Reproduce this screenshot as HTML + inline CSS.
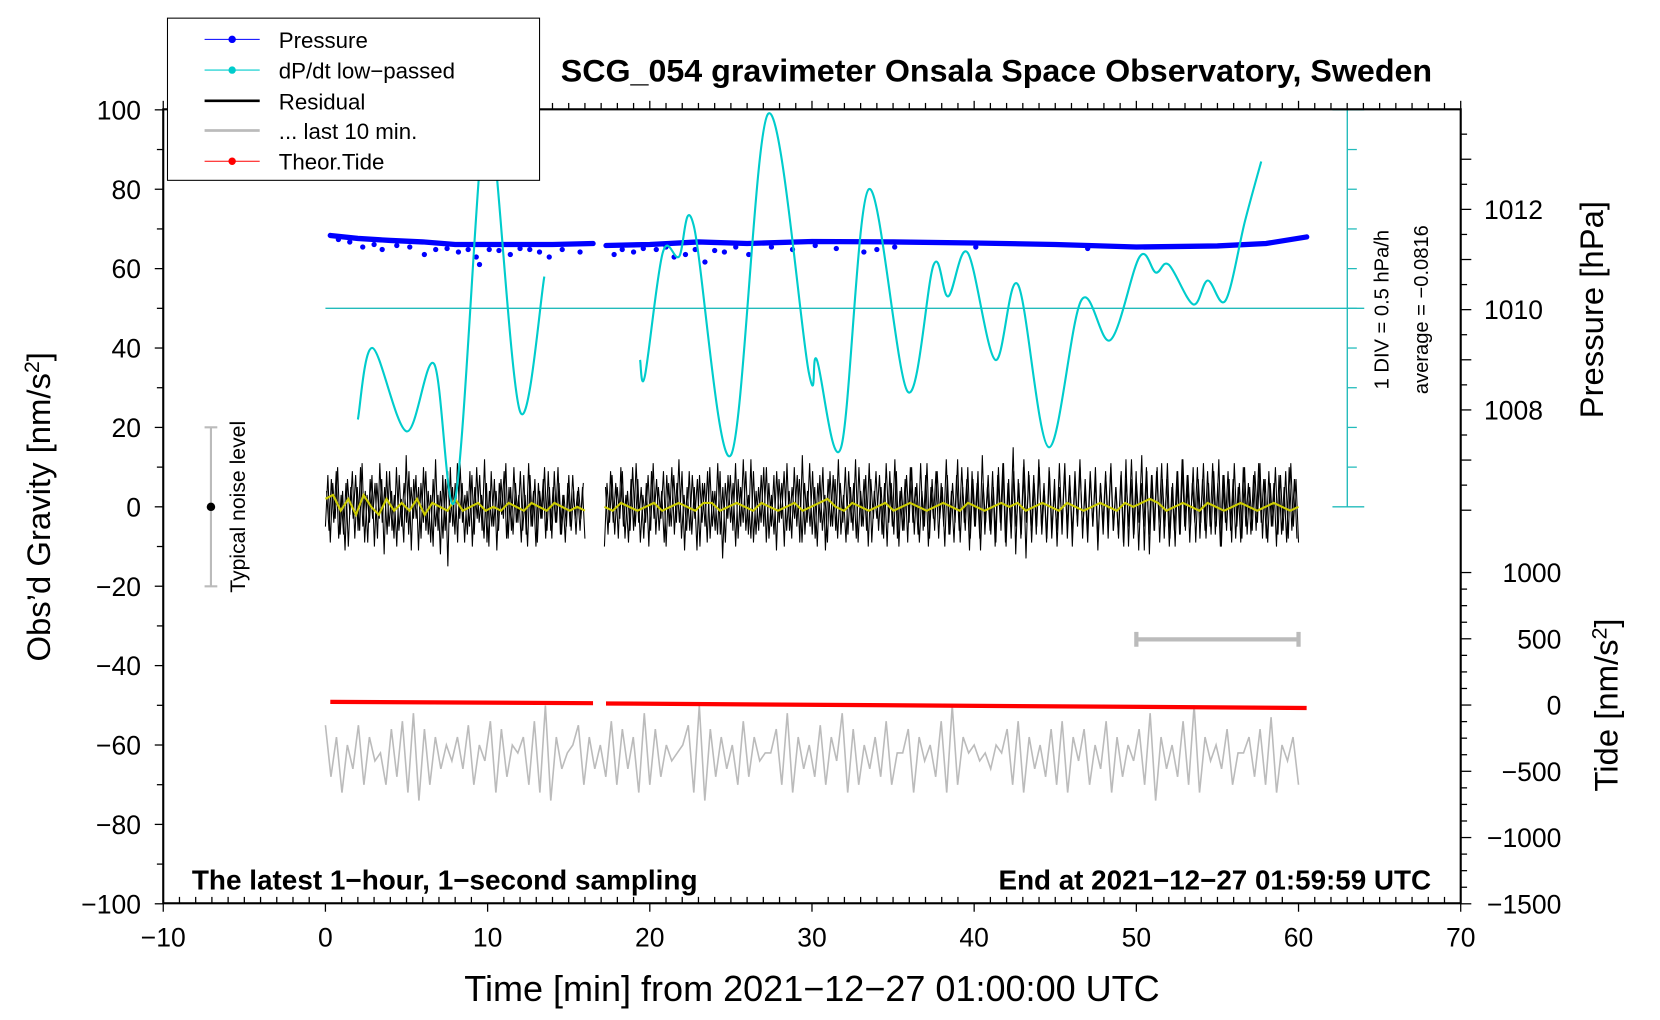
<!DOCTYPE html>
<html><head><meta charset="utf-8"><style>
html,body{margin:0;padding:0;background:#fff;}
svg{display:block;font-family:"Liberation Sans",Helvetica,Arial,sans-serif;}
</style></head><body>
<svg id="chart" width="1660" height="1020" viewBox="0 0 1566 962" xmlns="http://www.w3.org/2000/svg">
<rect x="0" y="0" width="1566" height="962" fill="#fff"/>
<g id="ticks"></g>
<g id="series"></g>
<rect x="154" y="103" width="1224" height="749" fill="none" stroke="#000" stroke-width="2"/>
<text x="940" y="77" text-anchor="middle" font-size="30" font-weight="bold" textLength="822" lengthAdjust="spacingAndGlyphs">SCG_054 gravimeter Onsala Space Observatory, Sweden</text>
<text transform="translate(47,478) rotate(-90)" text-anchor="middle" font-size="31">Obs’d Gravity [nm/s<tspan baseline-shift="super" font-size="20">2</tspan>]</text>
<text transform="translate(1512,292) rotate(-90)" text-anchor="middle" font-size="31">Pressure [hPa]</text>
<text transform="translate(1526,665) rotate(-90)" text-anchor="middle" font-size="31">Tide [nm/s<tspan baseline-shift="super" font-size="20">2</tspan>]</text>
<text x="766" y="944" text-anchor="middle" font-size="34" textLength="656" lengthAdjust="spacingAndGlyphs">Time [min] from 2021−12−27 01:00:00 UTC</text>
<text x="181" y="839" font-size="26" font-weight="bold" textLength="477" lengthAdjust="spacingAndGlyphs">The latest 1−hour, 1−second sampling</text>
<text x="942" y="839" font-size="26" font-weight="bold" textLength="408" lengthAdjust="spacingAndGlyphs">End at 2021−12−27 01:59:59 UTC</text>
<text transform="translate(1310,292) rotate(-90)" text-anchor="middle" font-size="19">1 DIV = 0.5 hPa/h</text>
<text transform="translate(1347,292) rotate(-90)" text-anchor="middle" font-size="19">average = −0.0816</text>
<g stroke="#bbb" stroke-width="2">
<line x1="199" y1="403" x2="199" y2="553"/><line x1="193" y1="403" x2="205" y2="403"/><line x1="193" y1="553" x2="205" y2="553"/>
</g>
<circle cx="199" cy="478" r="4" fill="#000"/>
<text transform="translate(231,478) rotate(-90)" text-anchor="middle" font-size="20">Typical noise level</text>
<g stroke="#bbb" stroke-width="4">
<line x1="1072" y1="603" x2="1225" y2="603"/><line x1="1072" y1="596" x2="1072" y2="610"/><line x1="1225" y1="596" x2="1225" y2="610"/>
</g>
<g>
<rect x="158" y="17" width="351" height="153" fill="#fff" stroke="#000" stroke-width="1"/>
<g><line x1="193" y1="37" x2="245" y2="37" stroke="#00f" stroke-width="1"/><circle cx="219" cy="37" r="3.5" fill="#00f"/><text x="263" y="45" font-size="21">Pressure</text></g>
<g><line x1="193" y1="66" x2="245" y2="66" stroke="#0cc" stroke-width="1"/><circle cx="219" cy="66" r="3.5" fill="#0cc"/><text x="263" y="74" font-size="21">dP/dt low−passed</text></g>
<g><line x1="193" y1="95" x2="245" y2="95" stroke="#000" stroke-width="2.5"/><text x="263" y="103" font-size="21">Residual</text></g>
<g><line x1="193" y1="123" x2="245" y2="123" stroke="#bbb" stroke-width="2.5"/><text x="263" y="131" font-size="21">... last 10 min.</text></g>
<g><line x1="193" y1="152" x2="245" y2="152" stroke="#f00" stroke-width="1"/><circle cx="219" cy="152" r="3.5" fill="#f00"/><text x="263" y="160" font-size="21">Theor.Tide</text></g>
</g>
</svg>
<script>
// ---- data ----
var xTicks=[-10,0,10,20,30,40,50,60,70];
var gTicks=[100,80,60,40,20,0,-20,-40,-60,-80,-100];
var pTicks=[1012,1010,1008];
var tideTicks=[1000,500,0,-500,-1000,-1500];
var seg1Range=[0.0,16.0];
var seg2Range=[17.2,60.0];
var res1=[-5,8,-9,6,-3,10,-7,4,-11,7,-2,9,-8,5,-6,11,-9,3,-4,8,-10,6,-3,7,-12,9,-5,4,-8,10,-6,2,-9,13,-7,5,-3,8,-11,6,-4,9,-7,3,-10,12,-6,4,-8,7,-15,10,-5,6,-9,11,-4,3,-7,9,-10,5,-3,8,-6,12,-9,4,-5,7,-11,6,-2,9,-8,5,-6,10,-4,3,-9,8,-7,11,-5,4,-10,6,-3,7,-8,9,-6,5,-4,10,-7,3,-9,6,-5,8,-3,4,-6,5,-8];
var res1b=[4,-6,7,-4,9,-8,3,-7,6,-10,5,-3,8,-6,10,-5,4,-9,7,-3,6,-8,11,-4,5,-7,9,-6,3,-10,8,-5,6,-4,9,-11,7,-3,5,-8,10,-6,4,-9,7,-5,3,-12,8,-6,9,-4,5,-7,11,-3,6,-9,4,-5,8,-7,10,-4,3,-8,6,-10,9,-5,4,-6,7,-3,11,-8,5,-7,6,-4,9,-6,3,-10,8,-5,7,-9,4,-3,10,-6,5,-8,9,-4,6,-7,3,-5,8,-6,4,-7,5,-3,6];
var res2=[-10,6,-4,8,-7,5,-3,9,-8,4,-6,10,-5,7,-9,3,-4,8,-6,11,-7,5,-3,9,-10,6,-5,8,-4,12,-8,3,-6,9,-7,5,-11,8,-4,6,-9,10,-5,4,-7,9,-13,6,-3,8,-6,11,-8,5,-4,9,-7,12,-9,4,-6,8,-5,10,-8,3,-7,9,-4,6,-10,11,-6,5,-3,8,-9,13,-7,4,-5,9,-8,6,-4,10,-11,7,-5,8,-6,12,-7,3,-9,9,-4,6,-8,10,-5,7,-6,11,-9,4,-3,8,-7,6,-10,9,-5,12,-8,4,-6,7,-9,10,-4,5,-7,11,-6,8,-10,5,-3,9,-8,6,-5,12,-7,4,-9,8,-6,10,-4,7,-11,9,-5,6,-8,13,-7,5,-6,9,-10,8,-4,11,-9,6,-5,15,-12,7,-8,10,-13,9,-6,8,-7,12,-5,6,-9,10,-8,4,-6,11,-7,9,-5,8,-10,6,-4,12,-8,7,-6,9,-5,10,-9,6,-7,8,-4,11,-6,5,-8,9,-10,7,-5,12,-7,6,-4,13,-11,9,-12,8,-6,10,-9,7,-5,11,-8,6,-10,9,-7,12,-6,8,-5,10,-9,7,-4,11,-8,6,-7,9,-5,12,-10,8,-6,7,-9,11,-5,6,-8,10,-7,5,-6,9,-4,11,-8,7,-9,6,-5,10,-7,8,-6,9,-8,11,-5,7,-9];
var res2b=[5,-7,9,-4,6,-8,10,-5,3,-9,7,-6,11,-4,5,-8,6,-10,9,-3,7,-6,4,-9,8,-5,10,-7,6,-4,9,-11,5,-6,8,-3,7,-10,6,-5,9,-8,4,-6,11,-7,5,-9,8,-4,6,-10,7,-5,12,-6,3,-8,9,-7,5,-4,10,-9,6,-5,8,-11,7,-3,9,-6,4,-8,10,-5,7,-9,6,-4,11,-7,5,-10,8,-6,3,-9,9,-5,7,-8,6,-4,10,-7,5,-6,12,-9,4,-5,8,-10,7,-3,9,-6,5,-8,11,-4,6,-7,9,-10,5,-6,8,-4,10,-7,6,-9,4,-5,11,-8,7,-6,9,-3,5,-10,8,-7,6,-4,12,-9,5,-6,10,-8,7,-5,9,-11,6,-4,8,-7,5,-9,10,-6,11,-10,7,-8,9,-5,6,-7,12,-4,8,-9,6,-5,10,-7,4,-8,9,-6,7,-10,5,-4,11,-8,6,-7,9,-5,10,-6,4,-9,8,-5,7,-11,6,-4,9,-8,10,-6,5,-7,8,-9,12,-10,7,-8,9,-11,6,-5,10,-7,8,-6,9,-4,11,-8,7,-10,5,-6,9,-7,12,-5,8,-9,6,-4,10,-8,7,-6,9,-5,11,-7,6,-10,8,-4,9,-6,7,-8,5,-9,10,-5,6,-7,8,-6,11,-4,7,-8,9,-5,6,-10,8,-7,5,-9,10,-6,7,-8];
var smooth1=[2,3,-1,2,-2,3,0,-2,2,-1,1,-1,2,-2,1,0,-1,2,-1,0,1,-1,0,-1,1,0,-1,1,0,-1,1,0,-1,0,-1];
var smooth2=[0,-1,1,0,-1,0,1,-1,0,1,0,-1,1,1,-1,0,1,0,-1,1,0,-1,0,1,-1,0,1,2,0,-1,1,0,-1,0,1,-1,0,1,0,-1,0,1,0,-1,1,0,-1,0,1,0,1,-1,0,1,0,-1,1,0,-1,0,1,0,-1,1,0,1,2,1,-1,0,1,0,-1,1,0,-1,0,1,0,-1,0,1,0,-1,0];
var lastTen=[-55,-68,-58,-72,-60,-66,-55,-70,-58,-64,-62,-70,-56,-68,-54,-72,-52,-74,-56,-70,-58,-66,-60,-64,-58,-66,-55,-70,-60,-64,-54,-72,-56,-68,-60,-62,-58,-70,-54,-72,-50,-74,-58,-66,-62,-60,-55,-70,-58,-66,-60,-68,-54,-70,-56,-66,-58,-72,-52,-70,-56,-68,-60,-64,-62,-60,-55,-72,-50,-74,-56,-68,-58,-66,-60,-70,-54,-68,-58,-64,-62,-62,-56,-70,-52,-72,-58,-66,-60,-68,-55,-70,-58,-64,-52,-72,-56,-70,-60,-66,-58,-68,-54,-70,-62,-62,-56,-72,-58,-64,-60,-68,-54,-72,-50,-70,-58,-62,-60,-64,-62,-66,-60,-62,-56,-70,-54,-72,-58,-66,-60,-68,-56,-70,-54,-72,-58,-64,-56,-70,-60,-66,-54,-72,-58,-68,-60,-64,-56,-70,-52,-74,-58,-66,-60,-68,-54,-70,-50,-72,-58,-64,-60,-66,-56,-70,-62,-62,-58,-68,-56,-70,-53,-72,-60,-64,-58,-70];
var lastTenRange=[0.0,60.0];
var dpdtT1=[2.0,2.9,5.0,6.7,8.0,9.6,10.3,12.0,13.5];
var dpdtV1=[22,40,19,36,2,90,94,24,58];
var dpdtT2=[19.4,19.7,20.8,21.8,22.7,25.0,27.3,29.8,30.3,31.8,33.5,35.9,37.5,38.4,39.6,41.3,42.7,44.6,46.6,48.4,50.2,51.2,52.0,53.5,54.4,55.5,56.7,57.7];
var dpdtV2=[37,33,64,63,71,13,99,34,37,15,80,29,61,53,64,37,56,15,52,42,63,59,61,51,57,52,72,87];
var dpdtAverage=50;
var pressT1=[0.3,2,4,6,8,10,12,14,16.5];
var pressV1=[1011.48,1011.42,1011.38,1011.35,1011.3,1011.3,1011.3,1011.3,1011.32];
var pressT2=[17.3,20,23,26,30,35,40,45,50,55,58,60.5];
var pressV2=[1011.28,1011.3,1011.35,1011.32,1011.36,1011.35,1011.33,1011.3,1011.25,1011.27,1011.32,1011.45];
var pressDotT=[0.8,1.5,2.3,3.0,3.5,4.4,5.2,6.1,6.8,7.5,8.2,8.8,9.3,9.5,10.1,10.7,11.4,12.0,12.6,13.2,13.8,14.6,15.7,17.8,18.3,19.0,19.6,20.4,21.0,21.5,22.2,22.8,23.4,24.0,24.6,25.3,26.1,27.5,28.8,30.2,31.5,33.2,34.0,35.1,40.1,47.0];
var pressDotV=[1011.4,1011.35,1011.25,1011.3,1011.2,1011.28,1011.25,1011.1,1011.2,1011.22,1011.15,1011.2,1011.05,1010.9,1011.2,1011.18,1011.1,1011.22,1011.2,1011.15,1011.05,1011.2,1011.15,1011.1,1011.2,1011.15,1011.22,1011.2,1011.25,1011.05,1011.1,1011.2,1010.95,1011.18,1011.15,1011.25,1011.1,1011.25,1011.2,1011.28,1011.22,1011.15,1011.2,1011.25,1011.25,1011.22];
var tideT=[0.3,16.5,17.3,60.5];
var tideV=[24,14,12,-22];
// ---- scales ----
function X(t){return 154+(t+10)*15.3;}
function Y(g){return 478-g*3.745;}
function P(p){return 292-(p-1010)*47.3;}
function TD(n){return 665-n*0.125;}
var NS='http://www.w3.org/2000/svg';
var ticksG=document.getElementById('ticks'),seriesG=document.getElementById('series');
function mk(tag,attrs,parent){var e=document.createElementNS(NS,tag);for(var k in attrs)e.setAttribute(k,attrs[k]);parent.appendChild(e);return e;}
for(var m=-10;m<=70;m++){
 var big=(m%10===0);var x=X(m);
 var l1=mk('line',{x1:x,x2:x,y1:852,y2:big?860:846,stroke:'#000','stroke-width':1.2},ticksG);
 
 
 var l2=mk('line',{x1:x,x2:x,y1:103,y2:big?95:97,stroke:'#000','stroke-width':1.2},ticksG);
 
 
}
xTicks.forEach(function(v){
 var t=mk('text',{x:X(v),y:893,'text-anchor':'middle','font-size':25},ticksG);t.textContent=(v<0?'−':'')+Math.abs(v);
 
 
});
for(var g=-100;g<=100;g+=10){
 var ln=mk('line',{x1:g%20===0?146:148,x2:154,y1:Y(g),y2:Y(g),stroke:'#000','stroke-width':1.2},ticksG);
 
 
}
gTicks.forEach(function(v){
 var t=mk('text',{x:133,y:Y(v)+9,'text-anchor':'end','font-size':25},ticksG);t.textContent=(v<0?'−':'')+Math.abs(v);
 
 
});
for(var p=1013.5;p>=1006;p-=0.5){
 var ln2=mk('line',{x1:1378,x2:(p%1===0)?1388:1384,y1:P(p),y2:P(p),stroke:'#000','stroke-width':1.2},ticksG);
 
 
}
pTicks.forEach(function(v){
 var t=mk('text',{x:1400,y:P(v)+9,'font-size':25},ticksG);t.textContent=v;
 
 
});
for(var n=1000;n>=-1500;n-=125){
 var ln3=mk('line',{x1:1378,x2:(n%500===0)?1388:1384,y1:TD(n),y2:TD(n),stroke:'#000','stroke-width':1.2},ticksG);
 
 
}
tideTicks.forEach(function(v){
 var t=mk('text',{x:1473,y:TD(v)+9,'text-anchor':'end','font-size':25},ticksG);t.textContent=(v<0?'−':'')+Math.abs(v);
 
 
});
var ax=mk('line',{x1:1271,x2:1271,y1:103,y2:478,stroke:'#2bb',"stroke-width":1.3},ticksG);


for(var d=0;d<=10;d++){
 var yy=Y(d*10);
 var tk=mk('line',{x1:d===0||d===10?1257:1271,x2:d===0||d===10?1287:1280,y1:yy,y2:yy,stroke:'#2bb','stroke-width':1.2},ticksG);
 
 
}
function poly(ts,vs,fx,fy){return ts.map(function(t,i){return fx(t).toFixed(1)+','+fy(vs[i]).toFixed(1);}).join(' ');}
function evenT(range,n){var a=[];for(var i=0;i<n;i++)a.push(range[0]+(range[1]-range[0])*i/(n-1));return a;}
function smoothPath(ts,vs){
 var pts=ts.map(function(t,i){return [X(t),Y(vs[i])];});
 var d='M'+pts[0][0]+','+pts[0][1];
 for(var i=0;i<pts.length-1;i++){
  var p0=pts[i-1]||pts[i],p1=pts[i],p2=pts[i+1],p3=pts[i+2]||p2;
  var c1=[p1[0]+(p2[0]-p0[0])/6,p1[1]+(p2[1]-p0[1])/6],c2=[p2[0]-(p3[0]-p1[0])/6,p2[1]-(p3[1]-p1[1])/6];
  d+=' C'+c1[0].toFixed(1)+','+c1[1].toFixed(1)+' '+c2[0].toFixed(1)+','+c2[1].toFixed(1)+' '+p2[0].toFixed(1)+','+p2[1].toFixed(1);
 }
 return d;
}
var av=mk('line',{x1:X(0),x2:1287,y1:Y(dpdtAverage),y2:Y(dpdtAverage),stroke:'#2bb','stroke-width':1.3},seriesG);


var gl=mk('polyline',{points:poly(evenT(lastTenRange,lastTen.length),lastTen,X,Y),fill:'none',stroke:'#bbb','stroke-width':1.5},seriesG);


[[res1,seg1Range],[res1b,[0.07,15.9]],[res2,seg2Range],[res2b,[17.27,59.9]]].forEach(function(s){
 var r=mk('polyline',{points:poly(evenT(s[1],s[0].length),s[0],X,Y),fill:'none',stroke:'#000','stroke-width':1},seriesG);
 
 
});
[[smooth1,seg1Range],[smooth2,seg2Range]].forEach(function(s){
 var r=mk('polyline',{points:poly(evenT(s[1],s[0].length),s[0],X,Y),fill:'none',stroke:'#cc0','stroke-width':2},seriesG);
 
 
});
[[0,1],[2,3]].forEach(function(ix){
 var r=mk('line',{x1:X(tideT[ix[0]]),y1:TD(tideV[ix[0]]),x2:X(tideT[ix[1]]),y2:TD(tideV[ix[1]]),stroke:'#f00','stroke-width':4},seriesG);
 
 
});
[[pressT1,pressV1],[pressT2,pressV2]].forEach(function(s){
 var r=mk('polyline',{points:poly(s[0],s[1],X,P),fill:'none',stroke:'#00f','stroke-width':5,'stroke-linecap':'round'},seriesG);
 
 
});
pressDotT.forEach(function(t,i){
 var c=mk('circle',{cx:X(t),cy:P(pressDotV[i]),r:2.5,fill:'#00f'},seriesG);
 
 
});
[[dpdtT1,dpdtV1],[dpdtT2,dpdtV2]].forEach(function(s){
 var r=mk('path',{d:smoothPath(s[0],s[1]),fill:'none',stroke:'#0cc','stroke-width':2},seriesG);
 
 
});
</script>
</body></html>
